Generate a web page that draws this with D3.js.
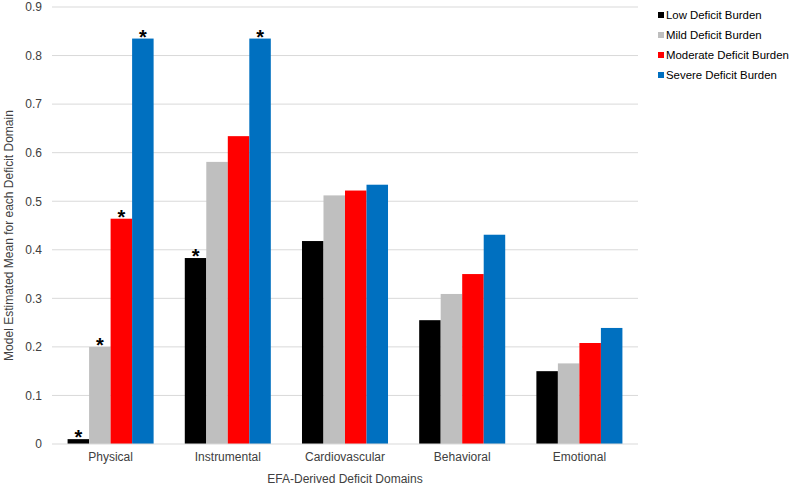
<!DOCTYPE html>
<html>
<head>
<meta charset="utf-8">
<script src="https://cdn.jsdelivr.net/npm/d3@7"></script>
<style>
  body { margin: 0; background: #fff; }
  svg { display: block; font-family: "Liberation Sans", Arial, sans-serif; }
</style>
</head>
<body>
<svg id="chart" width="797" height="487"></svg>
<script>
const categories = ["Physical", "Instrumental", "Cardiovascular", "Behavioral", "Emotional"];
const seriesNames = ["Low Deficit Burden", "Mild Deficit Burden", "Moderate Deficit Burden", "Severe Deficit Burden"];
const lowValues      = [0.010, 0.383, 0.418, 0.255, 0.150];
const mildValues     = [0.200, 0.581, 0.512, 0.309, 0.166];
const moderateValues = [0.464, 0.634, 0.522, 0.350, 0.208];
const severeValues   = [0.835, 0.835, 0.534, 0.431, 0.239];
const lowStars      = [true, true, false, false, false];
const mildStars     = [true, false, false, false, false];
const moderateStars = [true, false, false, false, false];
const severeStars   = [true, true, false, false, false];
const yTicks = [0, 0.1, 0.2, 0.3, 0.4, 0.5, 0.6, 0.7, 0.8, 0.9];
const colors = ["#000000", "#bfbfbf", "#ff0000", "#0070c0"];

const seriesValues = [lowValues, mildValues, moderateValues, severeValues];
const seriesStars = [lowStars, mildStars, moderateStars, severeStars];

const svg = d3.select("#chart");
const mLeft = 52, mRight = 638, mTop = 7, mBottom = 444;

const x0 = d3.scaleBand().domain(categories).range([mLeft, mRight]).paddingInner(0.266).paddingOuter(0.133);
const x1 = d3.scaleBand().domain(seriesNames).range([0, x0.bandwidth()]).padding(0);
const y = d3.scaleLinear().domain([0, 0.9]).range([mBottom, mTop]);

// gridlines
svg.append("g").selectAll("line").data(yTicks.filter(t => t > 0)).join("line")
  .attr("x1", mLeft).attr("x2", mRight)
  .attr("y1", d => y(d)).attr("y2", d => y(d))
  .attr("stroke", "#d9d9d9").attr("stroke-width", 1);

// y axis labels
const yAxis = d3.axisLeft(y).tickValues(yTicks).tickSize(0).tickPadding(0).tickFormat(d => d === 0 ? "0" : d3.format(".1f")(d));
const yg = svg.append("g").attr("transform", `translate(${mLeft - 10},0)`).call(yAxis);
yg.select(".domain").remove();
yg.selectAll("text").attr("font-size", 12).attr("fill", "#404040").attr("font-family", "Liberation Sans, Arial, sans-serif");

// bars
const groups = svg.append("g").selectAll("g").data(categories).join("g")
  .attr("transform", d => `translate(${x0(d)},0)`);

groups.selectAll("rect").data((c, i) => seriesNames.map((s, j) => ({ s, j, v: seriesValues[j][i], star: seriesStars[j][i] })))
  .join("rect")
  .attr("x", d => x1(d.s))
  .attr("width", x1.bandwidth())
  .attr("y", d => y(d.v))
  .attr("height", d => y(0) - y(d.v))
  .attr("fill", d => colors[d.j]);

groups.selectAll("text.star").data((c, i) => seriesNames.map((s, j) => ({ s, j, v: seriesValues[j][i], star: seriesStars[j][i] })).filter(d => d.star))
  .join("text").attr("class", "star")
  .attr("x", d => x1(d.s) + x1.bandwidth() / 2)
  .attr("y", d => y(d.v) + 5)
  .attr("text-anchor", "middle")
  .attr("font-size", 20).attr("font-weight", "bold").attr("fill", "#000")
  .text("*");

// x axis line
svg.append("line").attr("x1", mLeft).attr("x2", mRight).attr("y1", mBottom).attr("y2", mBottom)
  .attr("stroke", "#d9d9d9").attr("stroke-width", 1);

// x axis labels
const xAxis = d3.axisBottom(x0).tickSize(0).tickPadding(0);
const xg = svg.append("g").attr("transform", `translate(0,${mBottom + 8})`).call(xAxis);
xg.select(".domain").remove();
xg.selectAll("text").attr("font-size", 12).attr("fill", "#404040").attr("font-family", "Liberation Sans, Arial, sans-serif");

// axis titles
svg.append("text").attr("x", (mLeft + mRight) / 2).attr("y", 483).attr("text-anchor", "middle")
  .attr("font-size", 12).attr("fill", "#404040").text("EFA-Derived Deficit Domains");
svg.append("text").attr("transform", `translate(13,${(mTop + mBottom) / 2 + 10}) rotate(-90)`).attr("text-anchor", "middle")
  .attr("font-size", 12).attr("fill", "#404040").text("Model Estimated Mean for each Deficit Domain");

// legend
const legend = svg.append("g").selectAll("g").data(seriesNames).join("g")
  .attr("transform", (d, i) => `translate(658,${15 + i * 20})`);
legend.append("rect").attr("x", 0).attr("y", -3).attr("width", 6).attr("height", 6).attr("fill", (d, i) => colors[i]);
legend.append("text").attr("x", 8).attr("y", 4).attr("font-size", 11.4).attr("fill", "#000").text(d => d);
</script>
</body>
</html>
